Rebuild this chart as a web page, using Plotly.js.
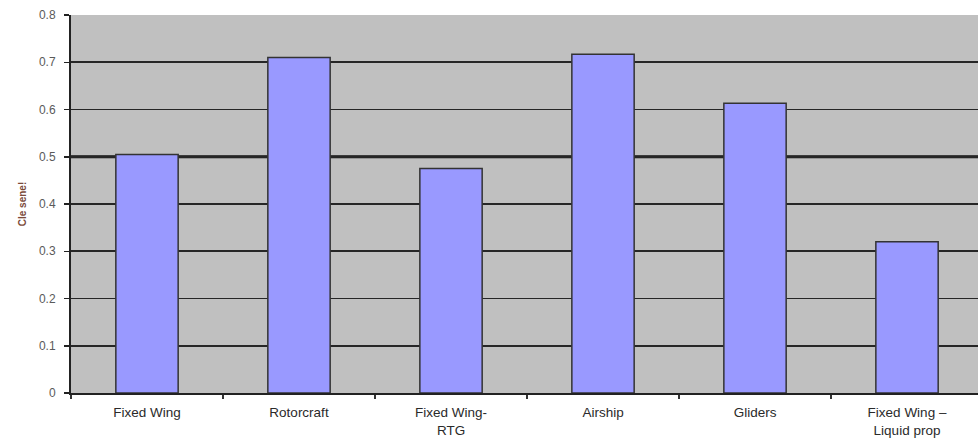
<!DOCTYPE html>
<html>
<head>
<meta charset="utf-8">
<script src="https://cdn.plot.ly/plotly-3.0.1.min.js"></script>
<style>
  html, body { margin: 0; padding: 0; background: #ffffff; }
  #chart { width: 978px; height: 439px; }
</style>
</head>
<body>
<div id="chart"></div>
<script>
// Vehicle categories along the horizontal axis
const categories = ["Fixed Wing", "Rotorcraft", "Fixed Wing-<br>RTG", "Airship", "Gliders", "Fixed Wing –<br>Liquid prop"];
// Score for each vehicle category
const scores = [0.505, 0.71, 0.475, 0.717, 0.613, 0.32];
// Vertical axis ticks
const yTicks = [0, 0.1, 0.2, 0.3, 0.4, 0.5, 0.6, 0.7, 0.8];
const yTickText = ["0", "0.1", "0.2", "0.3", "0.4", "0.5", "0.6", "0.7", "0.8"];
// Threshold drawn as a heavy rule
const threshold = 0.5;

const trace = {
  type: "bar",
  x: categories,
  y: scores,
  width: 0.41,
  marker: { color: "#9999ff", line: { color: "#333333", width: 1.5 } },
  hoverinfo: "x+y"
};

const layout = {
  width: 978,
  height: 439,
  margin: { l: 71, r: 0, t: 15, b: 46 },
  paper_bgcolor: "#ffffff",
  plot_bgcolor: "#c0c0c0",
  showlegend: false,
  font: { family: "Liberation Sans, Arial, sans-serif", color: "#333333" },
  xaxis: {
    type: "category",
    range: [-0.5, 5.467],
    tickson: "boundaries",
    ticks: "outside",
    ticklen: 4,
    tickwidth: 1.5,
    tickcolor: "#333333",
    showgrid: false,
    showline: true,
    linecolor: "#222222",
    linewidth: 2,
    tickfont: { size: 13.5, color: "#2a2a2a" },
    ticklabelstandoff: 6,
    fixedrange: true
  },
  yaxis: {
    range: [0, 0.8],
    tickmode: "array",
    tickvals: yTicks,
    ticktext: yTickText,
    ticks: "outside",
    ticklen: 5,
    tickwidth: 1.5,
    tickcolor: "#222222",
    showgrid: true,
    gridcolor: "#262626",
    gridwidth: 1.6,
    zeroline: false,
    showline: true,
    linecolor: "#222222",
    linewidth: 2,
    tickfont: { size: 12, color: "#5a5a5a" },
    ticklabelstandoff: 6,
    title: { text: "Cle sene!", font: { size: 10, color: "#7a4a3a", weight: "bold" }, standoff: 10 },
    fixedrange: true
  },
  shapes: [
    {
      type: "line",
      xref: "paper",
      yref: "y",
      x0: 0,
      x1: 1,
      y0: threshold,
      y1: threshold,
      layer: "below",
      line: { color: "#111111", width: 3 }
    }
  ]
};

Plotly.newPlot("chart", [trace], layout, { displayModeBar: false, staticPlot: true });
</script>
</body>
</html>
